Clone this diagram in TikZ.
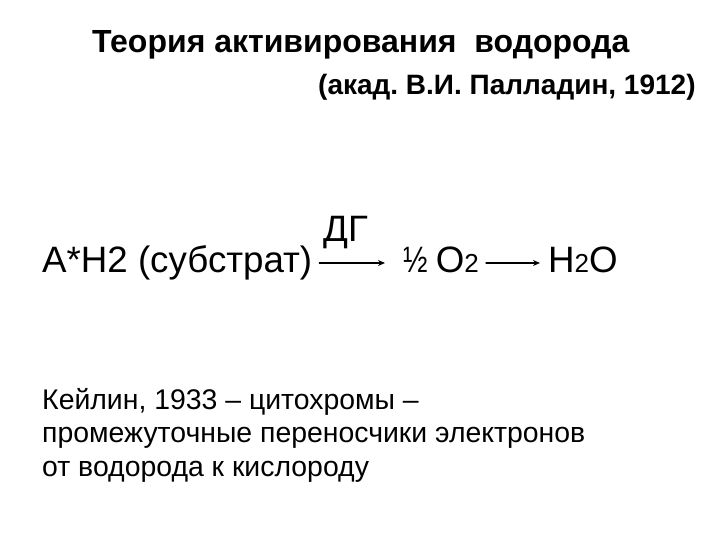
\documentclass[tikz,border=0pt]{standalone}
\usepackage{fontspec}
\setmainfont{Liberation Sans}
\usetikzlibrary{positioning,arrows.meta}
\frenchspacing
\newcommand{\sz}[1]{\fontsize{#1}{#1}\selectfont}
\newcommand{\smtwo}{{\fontsize{26}{26}\selectfont 2}}
\begin{document}
\begin{tikzpicture}[x=1pt,y=1pt,>={Stealth[length=7pt,width=6pt]},line cap=round,
  txt/.style={inner sep=0pt,anchor=base west},
  arr/.style={->,line width=1.5pt}]
\useasboundingbox (0,0) rectangle (720,540);

% title
\node[txt,font=\sz{32}\bfseries] (title) at (92,487) {Теория активирования\ \ водорода};
\node[txt,font=\sz{28}\bfseries] (author) at (318,445) {(акад. В.И. Палладин, 1912)};

% reaction
\node[txt,font=\sz{36.7}] (sub) at (42,267) {А*Н2 (субстрат)};
\node[txt,font=\sz{36.7}] (dg) at (323,298) {ДГ};
\node[txt,font=\sz{36.7}] (oxy) at (403,267) {\scalebox{0.8}[1]{½}\hspace{-2pt} O\smtwo};
\node[txt,font=\sz{36.7}] (water) at (548,267) {H\smtwo O};
\draw[arr] ([xshift=7pt,yshift=10pt]sub.base east) -- ([xshift=-18pt,yshift=10pt]oxy.base west);
\draw[arr] ([xshift=7pt,yshift=10pt]oxy.base east) -- ([xshift=-8pt,yshift=10pt]water.base west);

% Keilin
\node[txt,font=\sz{28.4}] (k1) at (42,130) {Кейлин, 1933 – цитохромы –};
\node[txt,font=\sz{28.4}] (k2) at (42,97) {промежуточные переносчики электронов};
\node[txt,font=\sz{28.4}] (k3) at (42,63) {от водорода к кислороду};
\end{tikzpicture}
\end{document}
